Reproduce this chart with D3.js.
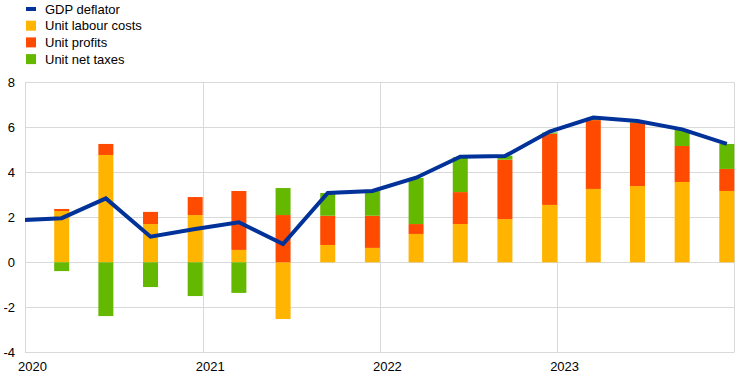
<!DOCTYPE html>
<html>
<head>
<meta charset="utf-8">
<script src="https://cdn.jsdelivr.net/npm/d3@7"></script>
<style>
  body { margin: 0; background: #fff; }
  svg { display: block; font-family: Arial, "Liberation Sans", sans-serif; }
  .grid line { stroke: #d9d9d9; stroke-width: 1; }
  .tick-label { font-size: 13px; fill: #000; }
  .legend text { font-size: 13px; fill: #000; }
</style>
</head>
<body>
<svg class="chart" width="745" height="379"></svg>
<script>
// quarters shown as bars (2020Q1 - 2023Q4)
const quarters = ["2020Q1","2020Q2","2020Q3","2020Q4","2021Q1","2021Q2","2021Q3","2021Q4",
                  "2022Q1","2022Q2","2022Q3","2022Q4","2023Q1","2023Q2","2023Q3","2023Q4"]
const labourCosts = [2.28, 4.77, 1.70, 2.10, 0.55, -2.52, 0.77, 0.64, 1.26, 1.70, 1.92, 2.55, 3.26, 3.39, 3.57, 3.17]
const unitProfits = [0.09, 0.49, 0.54, 0.80, 2.62, 2.10, 1.30, 1.43, 0.44, 1.42, 2.64, 3.17, 3.06, 2.82, 1.60, 0.98]
const netTaxes    = [-0.39, -2.39, -1.10, -1.50, -1.36, 1.20, 1.01, 1.10, 2.05, 1.55, 0.18, 0.05, 0.10, 0.05, 0.71, 1.11]

// GDP deflator line, starts one quarter earlier (clipped at the left edge)
const deflatorQuarters = ["2019Q4"].concat(quarters)
const gdpDeflator = [1.86, 1.96, 2.84, 1.14, 1.48, 1.78, 0.81, 3.08, 3.17, 3.76, 4.69, 4.72, 5.81, 6.43, 6.28, 5.91, 5.26]

const yTicks = [-4, -2, 0, 2, 4, 6, 8]
const yearTicks = ["2020", "2021", "2022", "2023", "2024"]
const yearLabels = ["2020", "2021", "2022", "2023"]

const seriesNames = ["GDP deflator", "Unit labour costs", "Unit profits", "Unit net taxes"]
const colors = {
    "GDP deflator": "#003299",
    "Unit labour costs": "#ffb400",
    "Unit profits": "#ff4b00",
    "Unit net taxes": "#65b800"
}

const svg = d3.select("svg.chart")
const plotLeft = 25, plotRight = 734.3, plotTop = 82.3, plotBottom = 352.3
const barWidth = 15

const parseYear = d3.timeParse("%Y")
// end of quarter date, e.g. 2020Q1 -> 2020-04-01
const quarterEnd = q => d3.timeMonth.offset(parseYear(q.slice(0, 4)), +q.slice(5) * 3)

const x = d3.scaleTime()
    .domain([parseYear("2020"), parseYear("2024")])
    .range([plotLeft, plotRight])

const y = d3.scaleLinear()
    .domain([-4, 8])
    .range([plotBottom, plotTop])

// grid
const grid = svg.append("g").attr("class", "grid")
grid.selectAll("line.h")
    .data(yTicks)
    .enter()
    .append("line")
    .attr("class", "h")
    .attr("x1", plotLeft).attr("x2", plotRight)
    .attr("y1", d => Math.round(y(d)) + 0.5)
    .attr("y2", d => Math.round(y(d)) + 0.5)
grid.selectAll("line.v")
    .data(yearTicks)
    .enter()
    .append("line")
    .attr("class", "v")
    .attr("y1", plotTop).attr("y2", plotBottom)
    .attr("x1", d => Math.round(x(parseYear(d))) + 0.5)
    .attr("x2", d => Math.round(x(parseYear(d))) + 0.5)

// stacked bars
const table = quarters.map((q, i) => ({
    quarter: q,
    "Unit labour costs": labourCosts[i],
    "Unit profits": unitProfits[i],
    "Unit net taxes": netTaxes[i]
}))

const stack = d3.stack()
    .keys(seriesNames.slice(1))
    .offset(d3.stackOffsetDiverging)

const layers = svg.append("g")
    .selectAll("g")
    .data(stack(table))
    .enter()
    .append("g")
    .attr("fill", d => colors[d.key])

layers.selectAll("rect")
    .data(d => d)
    .enter()
    .append("rect")
    .attr("x", d => x(quarterEnd(d.data.quarter)) - barWidth)
    .attr("width", barWidth)
    .attr("y", d => y(Math.max(d[0], d[1])))
    .attr("height", d => Math.abs(y(d[0]) - y(d[1])))

// deflator line
svg.append("clipPath")
    .attr("id", "plot-clip")
    .append("rect")
    .attr("x", plotLeft).attr("y", 0)
    .attr("width", plotRight - plotLeft).attr("height", 379)

const line = d3.line()
    .x((d, i) => x(quarterEnd(deflatorQuarters[i])) - barWidth / 2)
    .y(d => y(d))

svg.append("path")
    .datum(gdpDeflator)
    .attr("clip-path", "url(#plot-clip)")
    .attr("fill", "none")
    .attr("stroke", colors["GDP deflator"])
    .attr("stroke-width", 4)
    .attr("stroke-linejoin", "miter")
    .attr("d", line)

// axis labels
svg.append("g")
    .selectAll("text")
    .data(yTicks)
    .enter()
    .append("text")
    .attr("class", "tick-label")
    .attr("x", 15)
    .attr("y", d => y(d))
    .attr("dy", "0.35em")
    .attr("text-anchor", "end")
    .text(d => d)

svg.append("g")
    .selectAll("text")
    .data(yearLabels)
    .enter()
    .append("text")
    .attr("class", "tick-label")
    .attr("x", d => x(parseYear(d)) + 7.5)
    .attr("y", 371)
    .attr("text-anchor", "middle")
    .text(d => d)

// legend
const legend = svg.append("g")
    .attr("class", "legend")
    .selectAll("g")
    .data(seriesNames)
    .enter()
    .append("g")
    .attr("transform", (d, i) => "translate(26," + (9 + i * 16.7) + ")")

legend.append("rect")
    .attr("x", 0)
    .attr("width", 10)
    .attr("y", (d, i) => i == 0 ? -2 : -5)
    .attr("height", (d, i) => i == 0 ? 4 : 10)
    .attr("fill", d => colors[d])

legend.append("text")
    .attr("x", 19)
    .attr("dy", "0.35em")
    .text(d => d)
</script>
</body>
</html>
